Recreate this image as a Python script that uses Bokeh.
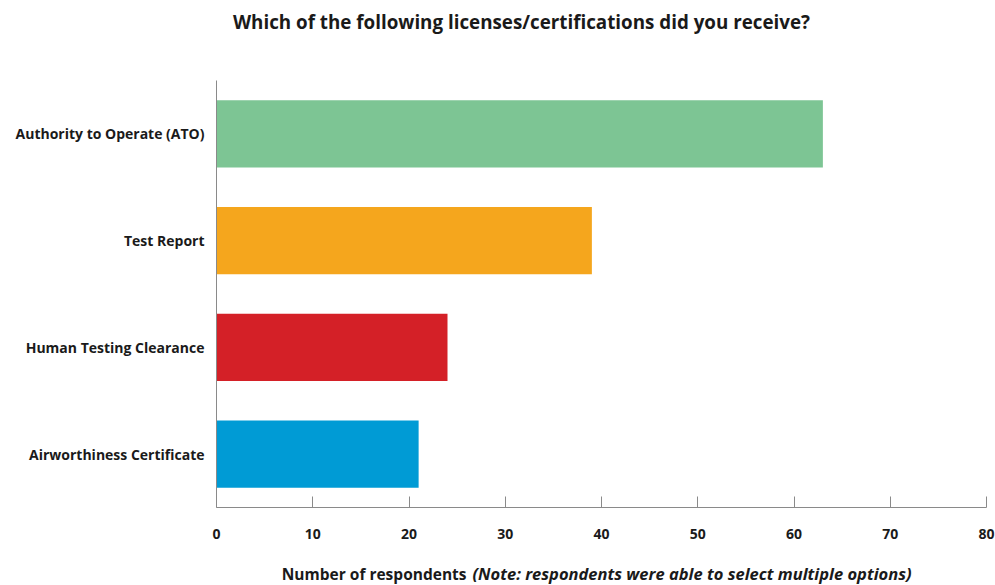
from bokeh.plotting import figure
from bokeh.models import Range1d, FixedTicker
from bokeh.layouts import column
from bokeh.core.properties import value
from bokeh.embed import file_html
from bokeh.resources import INLINE

categories = ["Airworthiness Certificate", "Human Testing Clearance", "Test Report", "Authority to Operate (ATO)"]
values = [21, 24, 39, 63]
colors = ["#009bd5", "#d42027", "#f5a61d", "#7dc594"]
x_ticks = [0, 10, 20, 30, 40, 50, 60, 70, 80]

title_text = "Which of the following licenses/certifications did you receive?"
xlabel_main = "Number of respondents"
xlabel_note = "(Note: respondents were able to select multiple options)"

FONT = "Open Sans"
TXT = "#1a1a1a"
W = 995
FRAME_L, FRAME_R = 216, 986   # frames of the stacked figures are aligned by the column


def strip(h):
    f = figure(width=W, height=h, x_range=Range1d(FRAME_L, FRAME_R), y_range=Range1d(0, h),
               output_backend="svg", toolbar_location=None, min_border=0)
    f.axis.visible = False
    f.grid.visible = False
    f.outline_line_color = None
    return f


# --- title strip ---
top = strip(60)
top.text(x=[521], y=[60 - 21], text=[title_text], text_align="center", text_baseline="middle",
         text_font=value(FONT), text_font_style="bold", text_font_size="18.8px", text_color=TXT)

# --- main chart ---
p = figure(width=W, height=488, y_range=categories, x_range=Range1d(0, 80),
           output_backend="svg", toolbar_location=None,
           min_border_left=FRAME_L, min_border_right=W - FRAME_R, min_border_top=20, min_border_bottom=41)

p.hbar(y=categories, right=values, left=0, height=0.63, color=colors, line_color=None)

p.outline_line_color = None
p.xgrid.grid_line_color = None
p.ygrid.grid_line_color = None

p.xaxis.ticker = FixedTicker(ticks=x_ticks)
p.xaxis.major_tick_in = 11
p.xaxis.major_tick_out = 0
p.xaxis.minor_tick_line_color = None
p.xaxis.axis_line_color = "#8a8a8a"
p.xaxis.major_tick_line_color = "#8a8a8a"
p.xaxis.major_label_standoff = 21
p.xaxis.major_label_text_font = FONT
p.xaxis.major_label_text_font_style = "bold"
p.xaxis.major_label_text_font_size = "14px"
p.xaxis.major_label_text_color = TXT

p.yaxis.major_tick_in = 0
p.yaxis.major_tick_out = 0
p.yaxis.axis_line_color = "#8a8a8a"
p.yaxis.major_label_standoff = 12
p.yaxis.major_label_text_font = FONT
p.yaxis.major_label_text_font_style = "bold"
p.yaxis.major_label_text_font_size = "14px"
p.yaxis.major_label_text_color = TXT

# --- x-axis title strip ---
bot = strip(37)
bot.text(x=[466], y=[37 - 25], text=[xlabel_main], text_align="right", text_baseline="middle",
         text_font=value(FONT), text_font_style="bold", text_font_size="15.5px", text_color=TXT)
bot.text(x=[472], y=[37 - 25], text=[xlabel_note], text_align="left", text_baseline="middle",
         text_font=value(FONT), text_font_style="bold italic", text_font_size="16.5px", text_color=TXT)

layout = column(top, p, bot, spacing=0)
open("out.html", "w").write(file_html(layout, INLINE))
